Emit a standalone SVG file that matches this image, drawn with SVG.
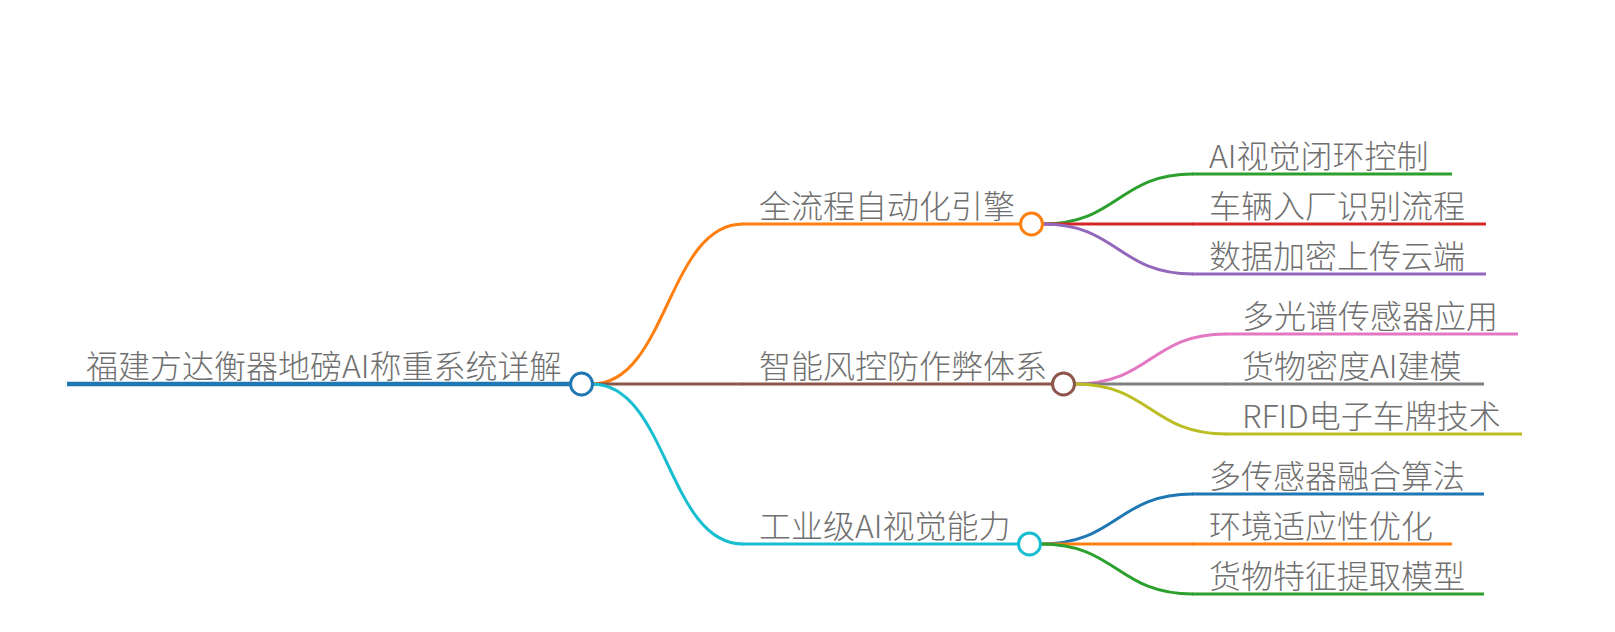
<svg xmlns="http://www.w3.org/2000/svg" width="1615" height="632" viewBox="0 0 1615 632">
<style>
text{font-family:"Noto Sans CJK SC","Liberation Sans",sans-serif;font-size:32px;font-weight:300;fill:#707070}
.ln{fill:none;stroke-linecap:butt}
.c{fill:#fff;stroke-width:3}
</style>
<rect width="1615" height="632" fill="#fff"/>
<g id="connectors" class="ln">
<path d="M592,384 C667.5,384 667.5,224 743,224" stroke="#ff7f0e" stroke-width="3"/>
<path d="M592,384 L743,384" stroke="#8c564b" stroke-width="3"/>
<path d="M592,384 C667.5,384 667.5,544 743,544" stroke="#17becf" stroke-width="3"/>
<path d="M1043,224 C1118,224 1118,174 1193,174" stroke="#2ca02c" stroke-width="3"/>
<path d="M1043,224 L1193,224" stroke="#d62728" stroke-width="3"/>
<path d="M1043,224 C1118,224 1118,274 1193,274" stroke="#9467bd" stroke-width="3"/>
<path d="M1075,384 C1150.5,384 1150.5,334 1226,334" stroke="#e377c2" stroke-width="3"/>
<path d="M1075,384 L1226,384" stroke="#7f7f7f" stroke-width="3"/>
<path d="M1075,384 C1150.5,384 1150.5,434 1226,434" stroke="#bcbd22" stroke-width="3"/>
<path d="M1041,544 C1117,544 1117,494 1193,494" stroke="#1f77b4" stroke-width="3"/>
<path d="M1041,544 L1193,544" stroke="#ff7f0e" stroke-width="3"/>
<path d="M1041,544 C1117,544 1117,594 1193,594" stroke="#2ca02c" stroke-width="3"/>
</g>
<g id="root">
<line x1="67" y1="384" x2="571" y2="384" stroke="#1f77b4" stroke-width="4.5"/>
<text x="86" y="378">福建方达衡器地磅AI称重系统详解</text>
<circle class="c" cx="581.5" cy="384" r="11" stroke="#1f77b4"/>
</g>
<g id="b1">
<line x1="742" y1="224" x2="1021" y2="224" stroke="#ff7f0e" stroke-width="3"/>
<text x="759" y="218">全流程自动化引擎</text>
<circle class="c" cx="1031.5" cy="224" r="11" stroke="#ff7f0e"/>
</g>
<g id="b2">
<line x1="742" y1="384" x2="1053" y2="384" stroke="#8c564b" stroke-width="3"/>
<text x="759" y="378">智能风控防作弊体系</text>
<circle class="c" cx="1063.5" cy="384" r="11" stroke="#8c564b"/>
</g>
<g id="b3">
<line x1="742" y1="544" x2="1019" y2="544" stroke="#17becf" stroke-width="3"/>
<text x="759" y="538">工业级AI视觉能力</text>
<circle class="c" cx="1029.5" cy="544" r="11" stroke="#17becf"/>
</g>
<g id="l1"><line x1="1192" y1="174" x2="1452" y2="174" stroke="#2ca02c" stroke-width="3"/><text x="1209" y="168">AI视觉闭环控制</text></g>
<g id="l2"><line x1="1192" y1="224" x2="1486" y2="224" stroke="#d62728" stroke-width="3"/><text x="1209" y="218">车辆入厂识别流程</text></g>
<g id="l3"><line x1="1192" y1="274" x2="1486" y2="274" stroke="#9467bd" stroke-width="3"/><text x="1209" y="268">数据加密上传云端</text></g>
<g id="l4"><line x1="1225" y1="334" x2="1518" y2="334" stroke="#e377c2" stroke-width="3"/><text x="1242" y="328">多光谱传感器应用</text></g>
<g id="l5"><line x1="1225" y1="384" x2="1484" y2="384" stroke="#7f7f7f" stroke-width="3"/><text x="1242" y="378">货物密度AI建模</text></g>
<g id="l6"><line x1="1225" y1="434" x2="1522" y2="434" stroke="#bcbd22" stroke-width="3"/><text x="1242" y="428">RFID电子车牌技术</text></g>
<g id="l7"><line x1="1192" y1="494" x2="1484" y2="494" stroke="#1f77b4" stroke-width="3"/><text x="1209" y="488">多传感器融合算法</text></g>
<g id="l8"><line x1="1192" y1="544" x2="1452" y2="544" stroke="#ff7f0e" stroke-width="3"/><text x="1209" y="538">环境适应性优化</text></g>
<g id="l9"><line x1="1192" y1="594" x2="1484" y2="594" stroke="#2ca02c" stroke-width="3"/><text x="1209" y="588">货物特征提取模型</text></g>
</svg>
